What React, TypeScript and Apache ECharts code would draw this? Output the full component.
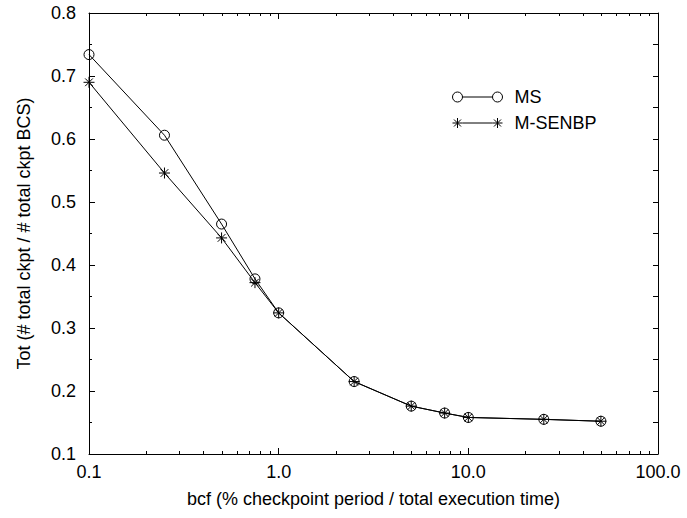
import React, { useEffect, useRef } from "react";
import * as echarts from "echarts";

const bcf = [0.1, 0.25, 0.5, 0.75, 1.0, 2.5, 5, 7.5, 10, 25, 50];
const msValues = [0.734, 0.606, 0.465, 0.378, 0.324, 0.215, 0.176, 0.165, 0.158, 0.155, 0.152];
const msenbpValues = [0.69, 0.546, 0.443, 0.372, 0.324, 0.215, 0.176, 0.165, 0.158, 0.155, 0.152];
const xMinorTicks = [
  0.2, 0.3, 0.4, 0.5, 0.6, 0.7, 0.8, 0.9,
  2, 3, 4, 5, 6, 7, 8, 9,
  20, 30, 40, 50, 60, 70, 80, 90,
];
const seriesNames = ["MS", "M-SENBP"];
const xName = "bcf (% checkpoint period / total execution time)";
const yName = "Tot (# total ckpt / # total ckpt BCS)";

const FONT = "'Liberation Sans', Arial, Helvetica, sans-serif";
const STAR = "path://M0,5L10,5M5,0L5,10M1.5,1.5L8.5,8.5M1.5,8.5L8.5,1.5";
const CIRCLE = "path://M0,5a5,5 0 1,0 10,0a5,5 0 1,0 -10,0Z";
const ICON_CIRCLE =
  "path://M0,5a5,5 0 1,0 10,0a5,5 0 1,0 -10,0M10,5L40,5M40,5a5,5 0 1,0 10,0a5,5 0 1,0 -10,0";
const ICON_STAR =
  "path://M0,5L10,5M5,0L5,10M1.5,1.5L8.5,8.5M1.5,8.5L8.5,1.5M10,5L40,5M40,5L50,5M45,0L45,10M41.5,1.5L48.5,8.5M41.5,8.5L48.5,1.5";

export default function App() {
  const ref = useRef<HTMLDivElement>(null);
  useEffect(() => {
    if (!ref.current) return;
    const chart = echarts.init(ref.current, null, { renderer: "svg" });
    const axisLine = { show: true, lineStyle: { color: "#000", width: 1 } };
    const fmtX = (v: number) => Number(v).toFixed(1);
    chart.setOption({
      animation: false,
      backgroundColor: "#fff",
      textStyle: { fontFamily: FONT },
      grid: { left: 89, right: 29, top: 13, bottom: 64, containLabel: false },
      legend: {
        left: 447,
        top: 83,
        orient: "vertical",
        itemWidth: 52,
        itemHeight: 10,
        itemGap: 8,
        selectedMode: false,
        data: [
          { name: seriesNames[0], icon: ICON_CIRCLE },
          { name: seriesNames[1], icon: ICON_STAR },
        ],
        itemStyle: { color: "rgba(0,0,0,0)", borderColor: "#000", borderWidth: 1 },
        textStyle: { fontSize: 18, color: "#000", fontFamily: FONT, padding: [0, 0, 0, 6] },
      },
      xAxis: [
        {
          type: "log",
          logBase: 10,
          min: 0.1,
          max: 100,
          position: "bottom",
          name: xName,
          nameLocation: "middle",
          nameGap: 36,
          nameTextStyle: { fontSize: 18, color: "#000", fontFamily: FONT },
          axisLine,
          axisTick: { show: true, inside: true, length: 6, lineStyle: { color: "#000" } },
          axisLabel: { color: "#000", fontSize: 18, margin: 9, formatter: fmtX, fontFamily: FONT },
          splitLine: { show: false },
        },
        {
          type: "log",
          logBase: 10,
          min: 0.1,
          max: 100,
          position: "top",
          axisLine,
          axisTick: { show: true, inside: true, length: 6, lineStyle: { color: "#000" } },
          axisLabel: { show: false },
          splitLine: { show: false },
        },
      ],
      yAxis: [
        {
          type: "value",
          min: 0.1,
          max: 0.8,
          interval: 0.1,
          position: "left",
          name: yName,
          nameLocation: "middle",
          nameGap: 56,
          nameTextStyle: { fontSize: 18, color: "#000", fontFamily: FONT },
          axisLine,
          axisTick: { show: true, inside: true, length: 6, lineStyle: { color: "#000" } },
          minorTick: { show: true, splitNumber: 2, length: 3, lineStyle: { color: "#000" } },
          axisLabel: {
            color: "#000",
            fontSize: 18,
            margin: 13,
            formatter: (v: number) => Number(v).toFixed(1),
            fontFamily: FONT,
          },
          splitLine: { show: false },
        },
        {
          type: "value",
          min: 0.1,
          max: 0.8,
          interval: 0.1,
          position: "right",
          axisLine,
          axisTick: { show: true, inside: true, length: 5, lineStyle: { color: "#000" } },
          minorTick: { show: true, splitNumber: 2, length: 5, lineStyle: { color: "#000" } },
          axisLabel: { show: false },
          splitLine: { show: false },
        },
      ],
      series: [
        {
          type: "custom",
          name: "minorTicks",
          xAxisIndex: 0,
          yAxisIndex: 0,
          silent: true,
          clip: false,
          data: xMinorTicks.map((v) => [v, 0.1]),
          renderItem: (params: any, api: any) => {
            const pt = api.coord([api.value(0), api.value(1)]);
            const cs = params.coordSys;
            const px = Math.round(pt[0]) + 0.5;
            const style = { stroke: "#000", lineWidth: 1 };
            return {
              type: "group",
              children: [
                { type: "line", shape: { x1: px, y1: cs.y + cs.height, x2: px, y2: cs.y + cs.height - 3 }, style },
                { type: "line", shape: { x1: px, y1: cs.y, x2: px, y2: cs.y + 3 }, style },
              ],
            };
          },
        },
        {
          type: "line",
          name: seriesNames[1],
          data: bcf.map((x, i) => [x, msenbpValues[i]]),
          symbol: STAR,
          symbolSize: 11,
          lineStyle: { color: "#000", width: 1 },
          itemStyle: { color: "rgba(0,0,0,0)", borderColor: "#000", borderWidth: 1 },
          z: 3,
        },
        {
          type: "line",
          name: seriesNames[0],
          data: bcf.map((x, i) => [x, msValues[i]]),
          symbol: CIRCLE,
          symbolSize: 10,
          lineStyle: { color: "#000", width: 1 },
          itemStyle: { color: "rgba(0,0,0,0)", borderColor: "#000", borderWidth: 1 },
          z: 4,
        },
      ],
    });
    return () => chart.dispose();
  }, []);
  return (
    <div
      ref={ref}
      style={{ position: "fixed", left: 0, top: 0, width: 687, height: 518 }}
    />
  );
}
